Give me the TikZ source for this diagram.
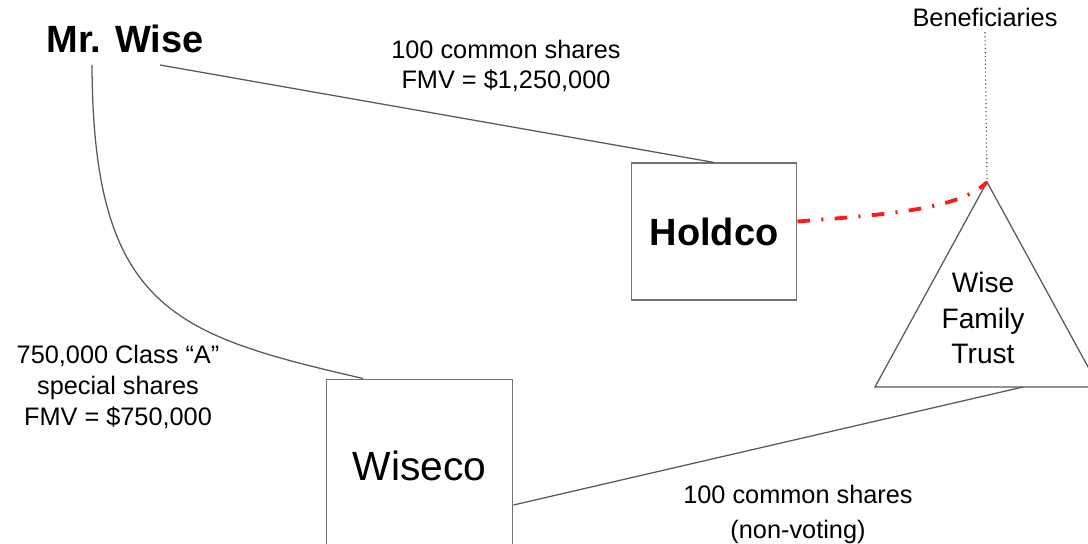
\documentclass[tikz,border=0pt]{standalone}
\usepackage{fontspec}
\setmainfont{Liberation Sans}
\usetikzlibrary{calc}
\tikzset{
  link/.style={draw=black!65, line width=0.9pt},
  entity/.style={draw=black!55, line width=1.1pt, fill=white, inner sep=0pt},
  lbl/.style={align=center, inner sep=0pt, font=\fontsize{18}{21.5}\selectfont},
  trustlink/.style={draw=red!90, line width=2.7pt, dash pattern=on 9pt off 8pt on 1.5pt off 8pt},
  benefline/.style={draw=black!70, line width=0.8pt, dash pattern=on 0.8pt off 2pt}
}
\begin{document}
\begin{tikzpicture}[x=0.025cm, y=-0.025cm]
\useasboundingbox (0,0) rectangle (1088,544);
% people and companies
\node[anchor=base, inner sep=0pt, font=\fontsize{27}{30}\selectfont\bfseries] (wise) at (125,53) {Mr. Wise};
\node[entity, minimum width=117.6pt, minimum height=97.1pt, font=\fontsize{27}{30}\selectfont\bfseries] (holdco) at (714,231.5) {Holdco};
\node[entity, minimum width=132.5pt, minimum height=123.3pt, font=\fontsize{29}{32}\selectfont] (wiseco) at (419.5,466) {Wiseco};
% trust
\coordinate (apex) at (987,182);
\coordinate (tleft) at (875,387);
\coordinate (tright) at (1099,387);
\coordinate (tbase) at (1023,387);
\draw[link] (apex) -- (tleft) -- (tright) -- cycle;
\node[anchor=north, align=center, inner sep=0pt, font=\fontsize{20}{25.2}\selectfont] (trust) at (983,272) {Wise\\Family\\Trust};
\node[anchor=base, font=\fontsize{18}{21}\selectfont] (benef) at (985,27) {Beneficiaries};
% share labels
\node[lbl, anchor=north] (hshares) at (506,40) {100 common shares\\FMV = \$1,250,000};
\node[lbl, anchor=north, font=\fontsize{18}{22}\selectfont] (wshares) at (118,345) {750,000 Class “A”\\special shares\\FMV = \$750,000};
\node[lbl, anchor=north, font=\fontsize{18}{25}\selectfont] (tshares) at (798,485) {100 common shares\\(non-voting)};
% connectors
\coordinate (wiseR) at (160,65);
\coordinate (wiseL) at (92,65);
\draw[link] (wiseR) -- (holdco.north);
\draw[link] (wiseL) .. controls (93,310) and (175,335) .. ($(wiseco.north west)!0.2!(wiseco.north east)$);
\draw[link] ($(wiseco.east)+(0,39)$) -- (tbase);
\draw[trustlink] ($(holdco.east)+(0,-10)$) .. controls (880,215) and (960,210) .. (apex);
\draw[benefline] (benef.south) -- (apex);
\end{tikzpicture}
\end{document}
